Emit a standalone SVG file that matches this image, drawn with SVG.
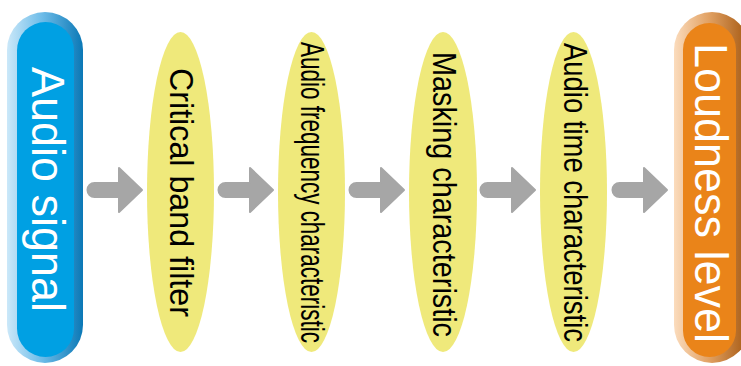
<svg xmlns="http://www.w3.org/2000/svg" width="741" height="366" viewBox="0 0 741 366">
  <defs>
    <linearGradient id="blueRim" x1="0" y1="0" x2="1" y2="0">
      <stop offset="0" stop-color="#cbe8f9"/>
      <stop offset="0.45" stop-color="#6fbde9"/>
      <stop offset="1" stop-color="#0a78b6"/>
    </linearGradient>
    <linearGradient id="orangeRim" x1="0" y1="0" x2="1" y2="0">
      <stop offset="0" stop-color="#fbdcbd"/>
      <stop offset="0.45" stop-color="#e2a264"/>
      <stop offset="1" stop-color="#a3560e"/>
    </linearGradient>
    <path id="arrow" d="M7.5,-7 H32 V-22 L55,0 L32,22 V7 H7.5 A7,7 0 0 1 7.5,-7 Z"/>
  </defs>
  <style>
    .ell { fill: #efe97b; }
    .lbl { font-family: "Liberation Sans", Arial, sans-serif; fill: #000; text-anchor: middle; }
    .big { font-family: "Liberation Sans", Arial, sans-serif; fill: #fff; text-anchor: middle; font-size: 45.5px; }
    .arr { fill: #a6a6a6; stroke: #a6a6a6; stroke-width: 2; stroke-linejoin: round; }
  </style>
  <rect width="741" height="366" fill="#fff"/>

  <g id="connectors">
    <use href="#arrow" class="arr" transform="translate(87,190)"/>
    <use href="#arrow" class="arr" transform="translate(218,190)"/>
    <use href="#arrow" class="arr" transform="translate(349,190)"/>
    <use href="#arrow" class="arr" transform="translate(480,190)"/>
    <use href="#arrow" class="arr" transform="translate(612,190)"/>
  </g>

  <g id="audio-signal">
    <rect x="7" y="12" width="76" height="351" rx="38" ry="38" fill="url(#blueRim)"/>
    <rect x="17" y="22" width="57" height="335" rx="28.5" ry="28.5" fill="#00a0e3"/>
    <text class="big" transform="translate(32,189.5) rotate(90)" textLength="245" lengthAdjust="spacingAndGlyphs">Audio signal</text>
  </g>

  <g id="critical-band-filter">
    <ellipse class="ell" cx="180.5" cy="192" rx="33.5" ry="160"/>
    <text class="lbl" font-size="32.5" transform="translate(169.5,192.5) rotate(90)" textLength="249" lengthAdjust="spacingAndGlyphs">Critical band filter</text>
  </g>

  <g id="audio-frequency-characteristic">
    <ellipse class="ell" cx="311.5" cy="192" rx="33.5" ry="160"/>
    <text class="lbl" font-size="32.5" transform="translate(300.7,192.5) rotate(90)" textLength="301" lengthAdjust="spacingAndGlyphs">Audio frequency characteristic</text>
  </g>

  <g id="masking-characteristic">
    <ellipse class="ell" cx="443" cy="192" rx="34" ry="160"/>
    <text class="lbl" font-size="32.5" transform="translate(432.5,194.5) rotate(90)" textLength="285" lengthAdjust="spacingAndGlyphs">Masking characteristic</text>
  </g>

  <g id="audio-time-characteristic">
    <ellipse class="ell" cx="573.5" cy="192" rx="33.5" ry="160"/>
    <text class="lbl" font-size="33" transform="translate(563.5,192.5) rotate(90)" textLength="299" lengthAdjust="spacingAndGlyphs">Audio time characteristic</text>
  </g>

  <g id="loudness-level">
    <rect x="674" y="12" width="76" height="351" rx="38" ry="38" fill="url(#orangeRim)"/>
    <rect x="683" y="23" width="53" height="334" rx="26.5" ry="26.5" fill="#ea8419"/>
    <text class="big" transform="translate(695,193) rotate(90)" textLength="300" lengthAdjust="spacingAndGlyphs">Loudness level</text>
  </g>
</svg>
